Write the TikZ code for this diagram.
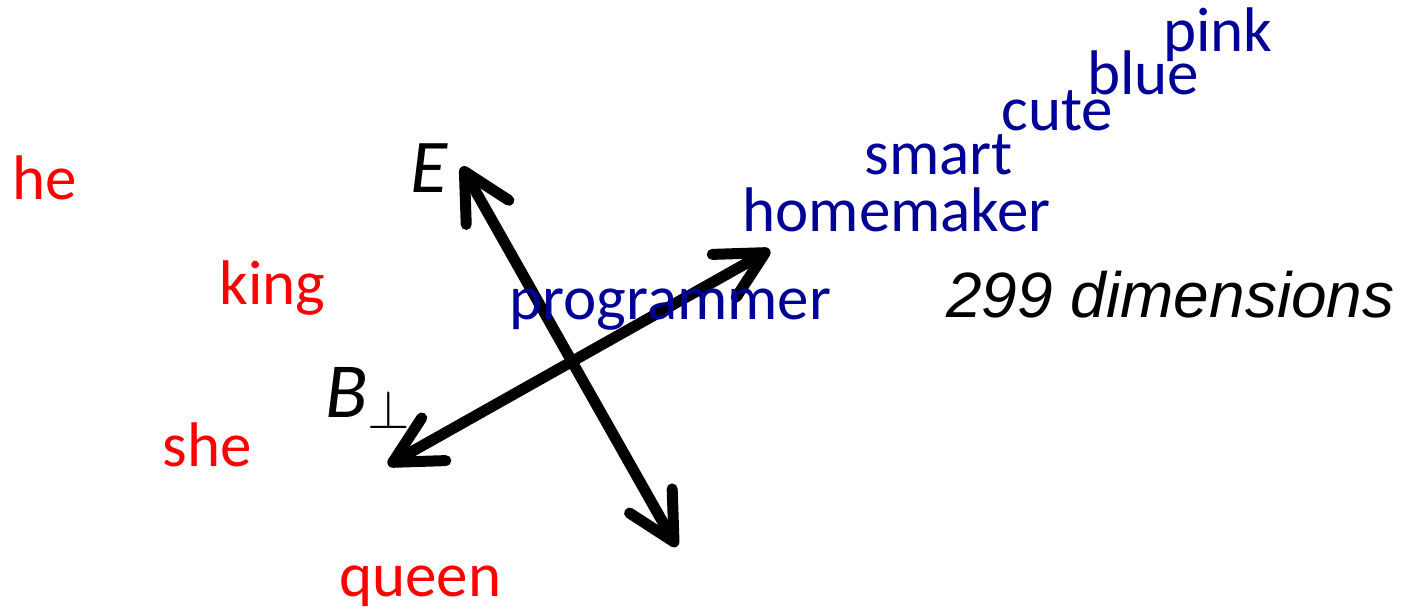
\RequirePackage{fix-cm}
\documentclass[tikz,border=0pt]{standalone}
\usepackage{fontspec}
\setmainfont{Carlito}
\newfontfamily\dimfont{Liberation Sans}
\usetikzlibrary{arrows.meta}
\definecolor{wordred}{RGB}{255,0,0}
\definecolor{wordblue}{RGB}{0,0,150}
\tikzset{
  barb/.tip={Straight Barb[length=23.5pt,width=24.5pt,round]},
  axisline/.style={barb-barb,line width=5.5pt,line cap=round,line join=round},
  genderword/.style={text=wordred},
  jobword/.style={text=wordblue}
}
\begin{document}
\begin{tikzpicture}[x=0.5pt,y=-0.5pt,every node/.style={inner sep=0pt,anchor=base west,font=\fontsize{31.5}{38}\selectfont}]
\useasboundingbox (0,0) rectangle (1408,609);
% ends of the two axes
\coordinate (Etop) at (461.7,166.7);
\coordinate (Ebot) at (676.7,546.7);
\coordinate (Bleft) at (388,465);
\coordinate (Bright) at (770,250);
\draw[axisline] (Ebot) -- (Etop);
\draw[axisline] (Bleft) -- (Bright);
\node (E) at (410,193) {\fontsize{38}{44}\selectfont\itshape E};
\node (B) at (325,417) {\fontsize{39}{46}\selectfont{\itshape B}$_{\perp}$};
% gender words
\node[genderword] (he) at (12,200) {he};
\node[genderword] (king) at (219,305) {king};
\node[genderword] (she) at (162,466) {she};
\node[genderword] (queen) at (339,596) {queen};
% neutral words
\node[jobword] (programmer) at (509,320) {programmer};
\node[jobword] (homemaker) at (742,232) {homemaker};
\node[jobword] (smart) at (864,175) {smart};
\node[jobword] (cute) at (1001,131) {cute};
\node[jobword] (blue) at (1087,95) {blue};
\node[jobword] (pink) at (1163,52) {pink};
\node (dims) at (946,318) {\dimfont\fontsize{32}{38}\selectfont\itshape 299 dimensions};
\end{tikzpicture}
\end{document}
